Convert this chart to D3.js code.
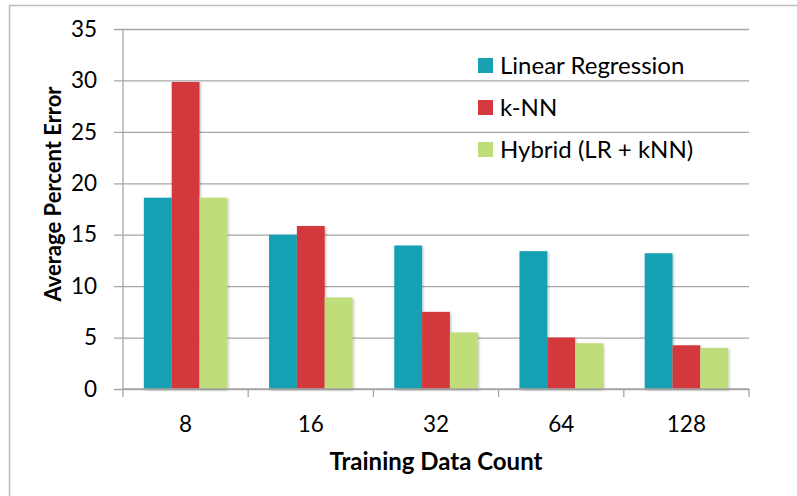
<!DOCTYPE html>
<html>
<head>
<meta charset="utf-8">
<script src="https://cdn.jsdelivr.net/npm/d3@7"></script>
<style>
  html, body { margin: 0; padding: 0; background: #fff; }
  svg { display: block; font-family: Lato, "Open Sans", sans-serif; }
</style>
</head>
<body>
<svg id="chart" width="797" height="496"></svg>
<script>
// Training set sizes (x categories)
const categories = ["8", "16", "32", "64", "128"];

// Series names and colours
const seriesNames = ["Linear Regression", "k-NN", "Hybrid (LR + kNN)"];
const seriesColors = ["#18a0b3", "#d3393e", "#bfdd78"];

// Average percent error per series, one value per category
const linearRegression = [18.6, 15.0, 13.95, 13.4, 13.2];
const kNN = [29.85, 15.85, 7.5, 5.0, 4.25];
const hybrid = [18.6, 8.9, 5.5, 4.45, 4.0];

// y-axis ticks
const yTicks = [0, 5, 10, 15, 20, 25, 30, 35];

const seriesValues = [linearRegression, kNN, hybrid];

const svg = d3.select("#chart");
const W = 797, H = 496;
const plot = { left: 123, right: 749, top: 29, bottom: 389 };
const gridColor = "#a6a6a6";

// outer chart frame
svg.append("rect")
  .attr("x", 9.5).attr("y", 5.5)
  .attr("width", W).attr("height", H)
  .attr("fill", "none").attr("stroke", "#bdbdbd").attr("stroke-width", 1.5);

const y = d3.scaleLinear().domain([0, 35]).range([plot.bottom, plot.top]);
const x = d3.scaleBand().domain(categories).range([plot.left, plot.right]).padding(0);
const xs = d3.scaleBand().domain(d3.range(seriesNames.length))
  .range([0, x.bandwidth()]).paddingInner(0).paddingOuter(0.75);

// soft bar shadow
const defs = svg.append("defs");
const f = defs.append("filter").attr("id", "shadow")
  .attr("x", "-20%").attr("y", "-5%").attr("width", "140%").attr("height", "115%");
f.append("feDropShadow").attr("dx", 1.2).attr("dy", 1.2).attr("stdDeviation", 1)
  .attr("flood-color", "#000").attr("flood-opacity", 0.25);

// horizontal gridlines with left tick marks
const yAxis = d3.axisLeft(y).tickValues(yTicks)
  .tickSize(-(plot.right - plot.left)).tickPadding(18).tickFormat(d3.format("d"));
const gy = svg.append("g").attr("transform", `translate(${plot.left},0)`).call(yAxis);
gy.select(".domain").remove();
gy.selectAll(".tick line")
  .attr("x1", -9)
  .attr("stroke", gridColor).attr("stroke-width", 1.3);
gy.selectAll(".tick text")
  .attr("font-family", "Lato, sans-serif").attr("font-size", 22.5).attr("fill", "#000")
  .attr("x", -26);

// vertical axis line
svg.append("line")
  .attr("x1", plot.left).attr("x2", plot.left)
  .attr("y1", plot.top).attr("y2", plot.bottom)
  .attr("stroke", gridColor).attr("stroke-width", 1.3);

// bars
const groups = svg.append("g").selectAll("g")
  .data(categories)
  .join("g")
  .attr("transform", d => `translate(${x(d)},0)`);

groups.selectAll("rect")
  .data((d, i) => seriesValues.map((vals, s) => ({ s, v: vals[i] })))
  .join("rect")
  .attr("x", d => xs(d.s))
  .attr("width", xs.bandwidth())
  .attr("y", d => y(d.v))
  .attr("height", d => y(0) - y(d.v))
  .attr("fill", d => seriesColors[d.s])
  .attr("filter", "url(#shadow)");

// x axis with boundary ticks between categories
const gx = svg.append("g").attr("transform", `translate(0,${plot.bottom})`);
gx.append("line")
  .attr("x1", plot.left).attr("x2", plot.right)
  .attr("stroke", gridColor).attr("stroke-width", 1.3);
const boundaries = categories.map(c => x(c)).concat([x(categories[categories.length - 1]) + x.bandwidth()]);
gx.selectAll("line.bt").data(boundaries).join("line").attr("class", "bt")
  .attr("x1", d => d).attr("x2", d => d).attr("y1", 0).attr("y2", 8)
  .attr("stroke", gridColor).attr("stroke-width", 1.3);
gx.selectAll("text").data(categories).join("text")
  .attr("x", d => x(d) + x.bandwidth() / 2)
  .attr("y", 43)
  .attr("text-anchor", "middle")
  .attr("font-size", 22.5).attr("fill", "#000")
  .text(d => d);

// axis titles
svg.append("text")
  .attr("x", (plot.left + plot.right) / 2).attr("y", 470)
  .attr("text-anchor", "middle")
  .attr("font-size", 24).attr("font-weight", "bold").attr("fill", "#000")
  .text("Training Data Count");

svg.append("text")
  .attr("transform", `translate(61,${(90 + 298) / 2}) rotate(-90)`)
  .attr("text-anchor", "middle")
  .attr("font-size", 22).attr("font-weight", "bold").attr("fill", "#000")
  .text("Average Percent Error");

// legend
const legend = svg.append("g").attr("transform", "translate(478,58)");
const li = legend.selectAll("g").data(seriesNames).join("g")
  .attr("transform", (d, i) => `translate(0,${i * 42})`);
li.append("rect").attr("width", 15).attr("height", 15)
  .attr("fill", (d, i) => seriesColors[i]);
li.append("text").attr("x", 22).attr("y", 16)
  .attr("font-size", 24).attr("fill", "#000")
  .text(d => d);
</script>
</body>
</html>
